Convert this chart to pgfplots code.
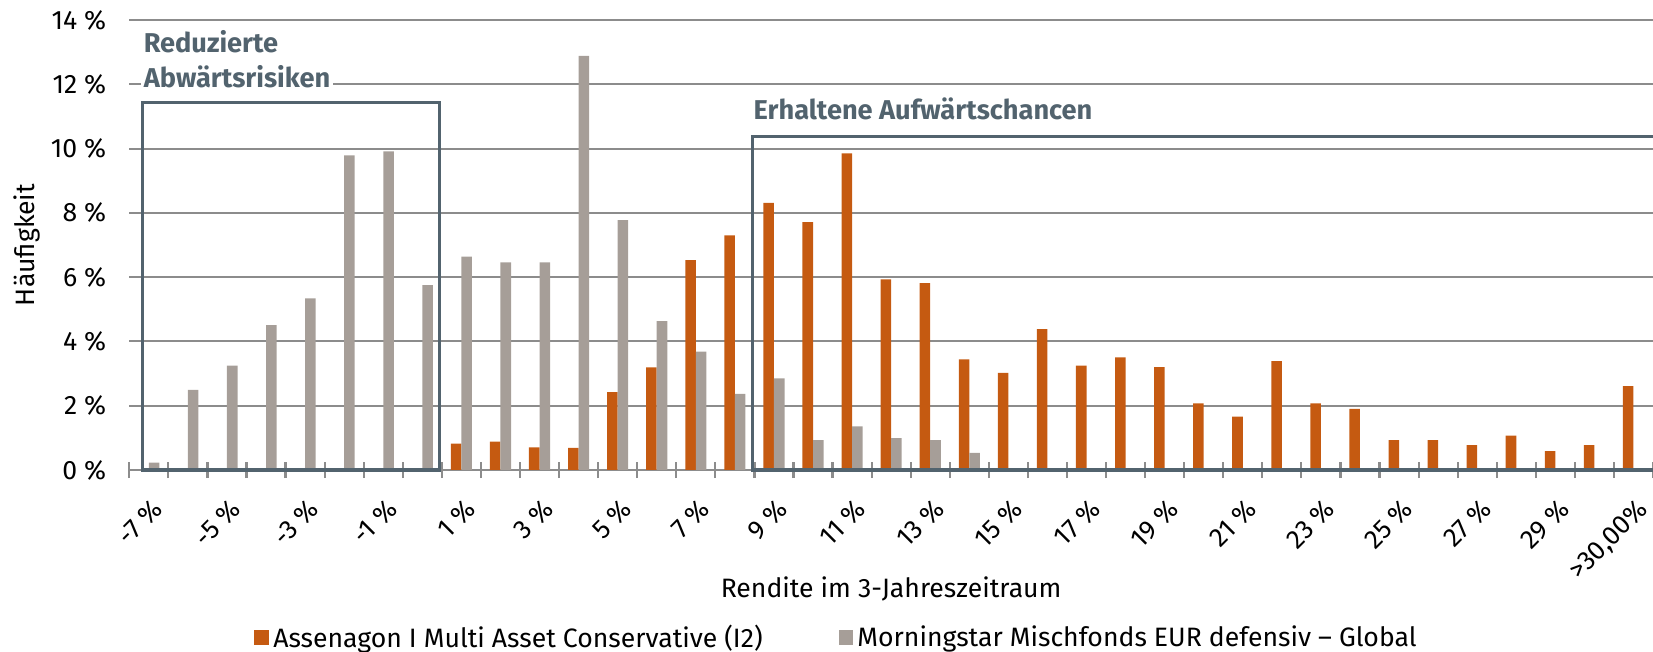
\documentclass[border=0pt]{standalone}
\usepackage{fontspec}
\setmainfont{Fira Sans}
\usepackage{pgfplots}
\pgfplotsset{compat=1.18}

\definecolor{assenagon}{HTML}{C55A11}
\definecolor{peer}{HTML}{A69E98}
\definecolor{gridgrey}{HTML}{8C8C8C}
\definecolor{slate}{HTML}{52636E}

\pgfplotsset{sqlegend/.style={legend image code/.code={\fill[##1] (0pt,-3.4pt) rectangle (7.4pt,4.2pt);}}}

\begin{document}
\begin{tikzpicture}
\begin{axis}[
    width=761.85pt, height=225pt, scale only axis,
    ybar=0pt, bar width=0.27,
    xmin=-0.5, xmax=38.5, ymin=0, ymax=14,
    axis x line*=bottom, axis y line*=left,
    x axis line style={gridgrey, line width=1pt},
    y axis line style={draw=none},
    clip=false,
    ytick={0,2,...,14},
    yticklabels={0 \%, 2 \%, 4 \%, 6 \%, 8 \%, 10 \%, 12 \%, 14 \%},
    ytick style={draw=none},
    ymajorgrids,
    grid style={gridgrey, line width=1pt},
    % tick marks between the categories
    xtick={-0.5,0.5,...,38.5},
    xticklabels={},
    xtick align=center,
    major tick length=8pt,
    xtick style={gridgrey, line width=1.1pt},
    % labels at every second category
    extra x ticks={0,2,...,38},
    extra x tick labels={-7 \%, -5 \%, -3 \%, -1 \%, 1 \%, 3 \%, 5 \%, 7 \%, 9 \%, 11 \%,
                 13 \%, 15 \%, 17 \%, 19 \%, 21 \%, 23 \%, 25 \%, 27 \%, 29 \%, {>30,00\%}},
    extra x tick style={major tick length=0pt},
    tick label style={font=\fontsize{13.3}{15}\selectfont},
    x tick label style={yshift=-13.5pt, xshift=1pt, rotate=45, anchor=north east, inner sep=0pt},
    y tick label style={xshift=-8pt},
    xlabel={Rendite im 3-Jahreszeitraum},
    ylabel={Häufigkeit},
    label style={font=\fontsize{13.3}{15}\selectfont},
    xlabel style={at={(rel axis cs:0.5,0)}, anchor=base, yshift=-63.5pt},
    ylabel style={at={(rel axis cs:0,0.5)}, anchor=center, yshift=51.4pt},
    legend columns=2,
    legend style={at={(rel axis cs:0.4648,0)}, anchor=center, yshift=-84pt,
        draw=none, fill=none, font=\fontsize{13.3}{15}\selectfont,
        /tikz/every even column/.append style={column sep=36pt}},
]
\addplot[fill=assenagon, draw=none, sqlegend] coordinates {
    (8,0.82) (9,0.88) (10,0.70) (11,0.69) (12,2.42) (13,3.19) (14,6.53)
    (15,7.30) (16,8.31) (17,7.71) (18,9.85) (19,5.93) (20,5.81) (21,3.44)
    (22,3.02) (23,4.38) (24,3.25) (25,3.50) (26,3.20) (27,2.07) (28,1.66)
    (29,3.39) (30,2.07) (31,1.90) (32,0.93) (33,0.93) (34,0.77) (35,1.07)
    (36,0.59) (37,0.77) (38,2.61)
};
\addplot[fill=peer, draw=none, sqlegend] coordinates {
    (0,0.23) (1,2.49) (2,3.25) (3,4.51) (4,5.34) (5,9.79) (6,9.91) (7,5.75)
    (8,6.64) (9,6.46) (10,6.46) (11,12.88) (12,7.77) (13,4.63) (14,3.68)
    (15,2.37) (16,2.85) (17,0.93) (18,1.36) (19,0.99) (20,0.93) (21,0.53)
};
\legend{Assenagon I Multi Asset Conservative (I2), Morningstar Mischfonds EUR defensiv – Global}

% annotation boxes
\draw[slate, line width=1.6pt] (axis cs:-0.16,0) rectangle (axis cs:7.44,11.44);
\draw[slate, line width=1.6pt, line join=miter] (axis cs:39,10.37) -| (axis cs:15.45,0) -- (axis cs:39,0);
\node[anchor=base west, text=slate, inner sep=0pt, font=\bfseries\fontsize{13.6}{16}\selectfont]
    at (axis cs:-0.14,13.0) {Reduzierte};
\node[anchor=base west, text=slate, fill=white, inner xsep=1.5pt, inner ysep=2pt, xshift=-1.5pt,
    font=\bfseries\fontsize{13.6}{16}\selectfont]
    at (axis cs:-0.14,11.91) {Abwärtsrisiken\hspace{4pt}};
\node[anchor=base west, text=slate, inner sep=0pt, font=\bfseries\fontsize{13.6}{16}\selectfont]
    at (axis cs:15.47,10.91) {Erhaltene Aufwärtschancen};

\coordinate (bl) at (rel axis cs:0,0);
\coordinate (tr) at (rel axis cs:1,1);
\end{axis}
\pgfresetboundingbox
\path ([shift={(-64.65pt,-91pt)}]bl) rectangle ([shift={(0pt,10pt)}]tr);
\end{tikzpicture}
\end{document}
